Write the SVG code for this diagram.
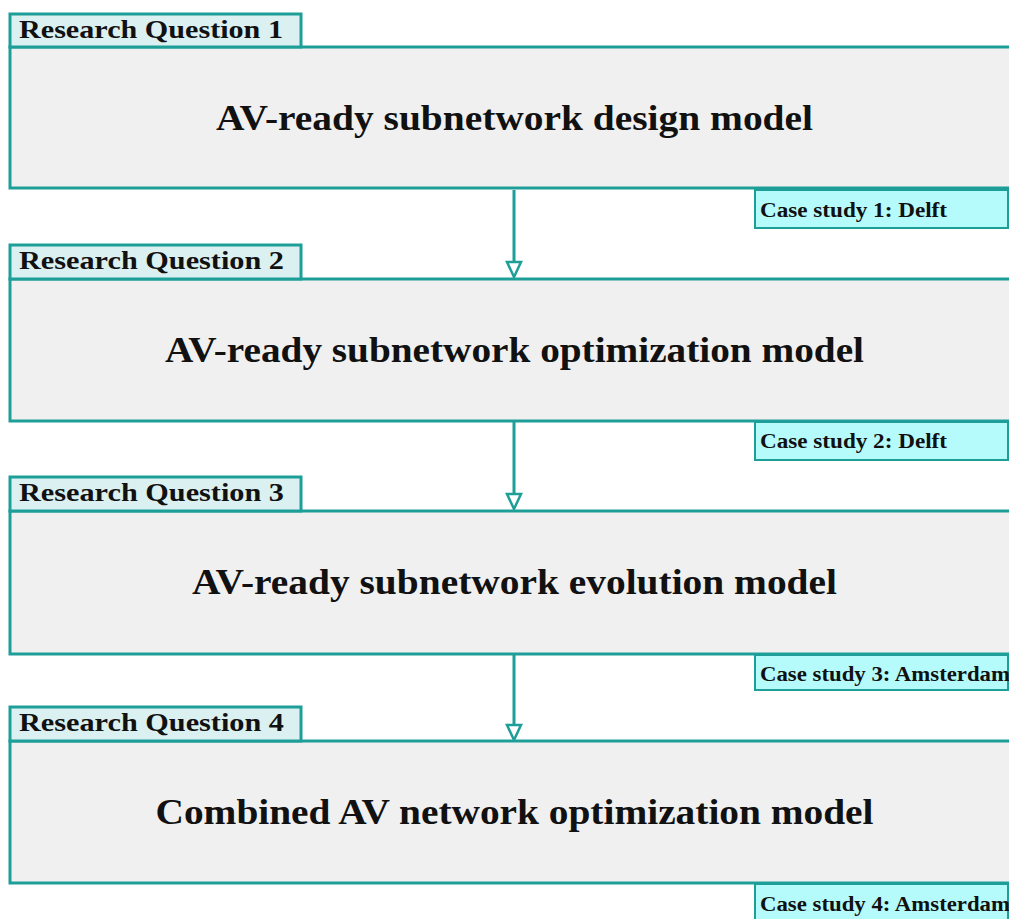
<svg xmlns="http://www.w3.org/2000/svg" width="1009" height="919" viewBox="0 0 1009 919">
  <style>
    .main { fill: #f0f0f0; stroke: #1e9e98; stroke-width: 3; }
    .rq { fill: #dbf0f1; stroke: #1e9e98; stroke-width: 3; }
    .case { fill: #b6fbfb; stroke: #1e9e98; stroke-width: 2; }
    .title { font-family: "Liberation Serif", serif; font-weight: bold; font-size: 35px; fill: #111; text-anchor: middle; }
    .rqt { font-family: "Liberation Serif", serif; font-weight: bold; font-size: 25px; fill: #111; }
    .caset { font-family: "Liberation Serif", serif; font-weight: bold; font-size: 20px; fill: #111; }
    .conn { stroke: #1e9e98; stroke-width: 3; fill: none; }
    .head { stroke: #1e9e98; stroke-width: 2.5; fill: #ffffff; }
  </style>
  <rect width="1009" height="919" fill="#ffffff"/>

  <!-- connectors between stages -->
  <g id="connectors">
    <line class="conn" x1="514" y1="190" x2="514" y2="262"/>
    <polygon class="head" points="507,262 521,262 514,277"/>
    <line class="conn" x1="514" y1="422" x2="514" y2="494"/>
    <polygon class="head" points="507,494 521,494 514,509"/>
    <line class="conn" x1="514" y1="655" x2="514" y2="725"/>
    <polygon class="head" points="507,725 521,725 514,740"/>
  </g>

  <!-- stage 1 -->
  <g id="rq1">
    <rect class="main" x="10" y="47" width="1010" height="141"/>
    <rect class="rq" x="10" y="14" width="291" height="33"/>
    <text class="rqt" x="19" y="38" textLength="264" lengthAdjust="spacingAndGlyphs">Research Question 1</text>
    <text class="title" x="514.5" y="130" textLength="597" lengthAdjust="spacingAndGlyphs">AV-ready subnetwork design model</text>
    <rect class="case" x="755" y="190" width="253" height="38"/>
    <text class="caset" x="760" y="217" textLength="187" lengthAdjust="spacingAndGlyphs">Case study 1: Delft</text>
  </g>

  <!-- stage 2 -->
  <g id="rq2">
    <rect class="main" x="10" y="279" width="1010" height="142"/>
    <rect class="rq" x="10" y="245" width="291" height="34"/>
    <text class="rqt" x="19" y="269" textLength="265" lengthAdjust="spacingAndGlyphs">Research Question 2</text>
    <text class="title" x="514.5" y="362" textLength="699" lengthAdjust="spacingAndGlyphs">AV-ready subnetwork optimization model</text>
    <rect class="case" x="755" y="422" width="253" height="38"/>
    <text class="caset" x="760" y="448" textLength="187" lengthAdjust="spacingAndGlyphs">Case study 2: Delft</text>
  </g>

  <!-- stage 3 -->
  <g id="rq3">
    <rect class="main" x="10" y="511" width="1010" height="143"/>
    <rect class="rq" x="10" y="477" width="291" height="34"/>
    <text class="rqt" x="19" y="501" textLength="265" lengthAdjust="spacingAndGlyphs">Research Question 3</text>
    <text class="title" x="514.5" y="594" textLength="645" lengthAdjust="spacingAndGlyphs">AV-ready subnetwork evolution model</text>
    <rect class="case" x="755" y="655" width="253" height="35"/>
    <text class="caset" x="760" y="681" textLength="250" lengthAdjust="spacingAndGlyphs">Case study 3: Amsterdam</text>
  </g>

  <!-- stage 4 -->
  <g id="rq4">
    <rect class="main" x="10" y="741" width="1010" height="142"/>
    <rect class="rq" x="10" y="707" width="291" height="34"/>
    <text class="rqt" x="19" y="731" textLength="265" lengthAdjust="spacingAndGlyphs">Research Question 4</text>
    <text class="title" x="514.5" y="824" textLength="718" lengthAdjust="spacingAndGlyphs">Combined AV network optimization model</text>
    <rect class="case" x="755" y="884" width="253" height="40"/>
    <text class="caset" x="760" y="911" textLength="250" lengthAdjust="spacingAndGlyphs">Case study 4: Amsterdam</text>
  </g>
</svg>
